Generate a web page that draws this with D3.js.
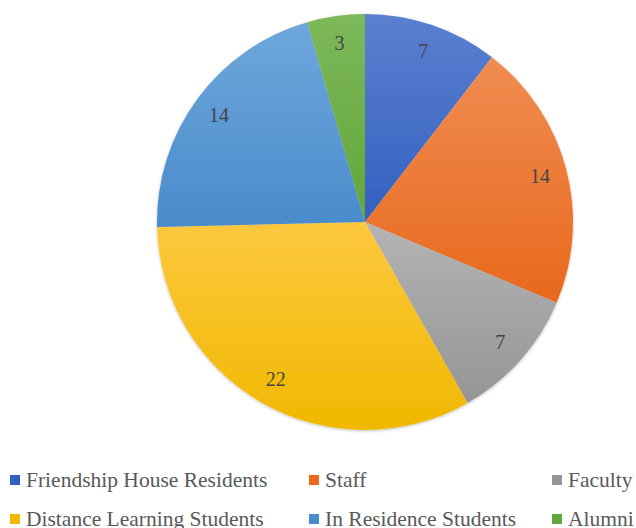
<!DOCTYPE html>
<html>
<head>
<meta charset="utf-8">
<script src="https://cdn.jsdelivr.net/npm/d3@7"></script>
<style>
  body { margin: 0; background: #fff; }
  svg { display: block; }
</style>
</head>
<body>
<svg id="chart"></svg>
<script>
// Pie chart - group counts
const categories = ["Friendship House Residents", "Staff", "Faculty", "Distance Learning Students", "In Residence Students", "Alumni"];
const values = [7, 14, 7, 22, 14, 3];
const colorsTop = ["#5b80d0", "#f08c52", "#b4b4b4", "#fdc83f", "#6ea7dc", "#7db85a"];
const colorsBottom = ["#3360c0", "#e8691c", "#959595", "#f0b800", "#4a8bcb", "#62a63a"];

const width = 636, height = 528;
const cx = 365, cy = 222, radius = 208;
const font = '"Liberation Serif", "Times New Roman", serif';

const svg = d3.select("#chart")
    .attr("width", width)
    .attr("height", height);

const defs = svg.append("defs");
categories.forEach((c, i) => {
    const g = defs.append("linearGradient")
        .attr("id", `grad${i}`)
        .attr("x1", 0).attr("y1", 0)
        .attr("x2", 0).attr("y2", 1);
    g.append("stop").attr("offset", "0%").attr("stop-color", colorsTop[i]);
    g.append("stop").attr("offset", "100%").attr("stop-color", colorsBottom[i]);
});

const filter = defs.append("filter").attr("id", "shadow")
    .attr("x", "-10%").attr("y", "-10%").attr("width", "120%").attr("height", "120%");
filter.append("feDropShadow")
    .attr("dx", 0).attr("dy", 1).attr("stdDeviation", 1.5)
    .attr("flood-color", "#000").attr("flood-opacity", 0.25);

const pie = d3.pie().sort(null).value(d => d);
const arcs = pie(values);
const arc = d3.arc().innerRadius(0).outerRadius(radius);
const labelArc = d3.arc().innerRadius(181).outerRadius(181);

const g = svg.append("g")
    .attr("transform", `translate(${cx},${cy})`);

g.append("g")
    .attr("filter", "url(#shadow)")
    .selectAll("path")
    .data(arcs)
    .enter().append("path")
    .attr("d", arc)
    .attr("fill", (d, i) => `url(#grad${i})`);

g.selectAll(".label")
    .data(arcs)
    .enter().append("text")
    .attr("class", "label")
    .attr("transform", d => `translate(${labelArc.centroid(d)})`)
    .attr("text-anchor", "middle")
    .attr("dy", "0.35em")
    .style("font-family", font)
    .style("font-size", "20px")
    .style("fill", "#454545")
    .text(d => d.data);

// legend, 3 columns x 2 rows
const legendX = [10, 309, 552];
const legendY = [480, 519];

const legend = svg.selectAll(".legend")
    .data(categories)
    .enter().append("g")
    .attr("class", "legend")
    .attr("transform", (d, i) => `translate(${legendX[i % 3]},${legendY[Math.floor(i / 3)]})`);

legend.append("rect")
    .attr("x", 0)
    .attr("y", -5)
    .attr("width", 10)
    .attr("height", 10)
    .attr("fill", (d, i) => colorsBottom[i]);

legend.append("text")
    .attr("x", 16)
    .attr("y", 0)
    .attr("dy", "0.33em")
    .style("font-family", font)
    .style("font-size", "21.5px")
    .style("fill", "#595959")
    .text(d => d);
</script>
</body>
</html>
